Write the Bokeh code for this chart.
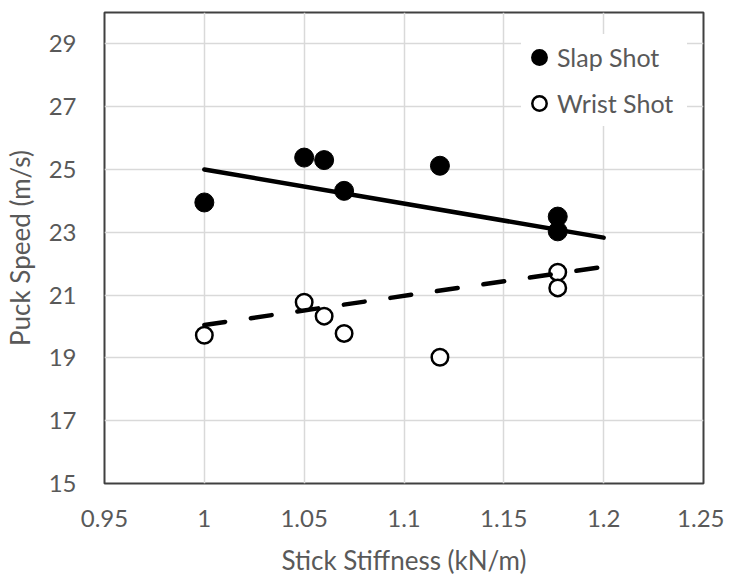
from bokeh.plotting import figure
from bokeh.models import Range1d, FixedTicker, Legend, LegendItem
from bokeh.embed import file_html
from bokeh.resources import INLINE

# ---- data ----
slap_x = [1.0, 1.05, 1.06, 1.07, 1.118, 1.177, 1.177]
slap_y = [23.95, 25.38, 25.3, 24.32, 25.12, 23.5, 23.03]
wrist_x = [1.0, 1.05, 1.06, 1.07, 1.118, 1.177, 1.177]
wrist_y = [19.72, 20.77, 20.33, 19.78, 19.02, 21.73, 21.23]

slap_fit_x = [1.0, 1.2]
slap_fit_y = [25.0, 22.83]
wrist_fit_x = [1.0, 1.2]
wrist_fit_y = [20.05, 21.9]

x_ticks = [0.95, 1.0, 1.05, 1.1, 1.15, 1.2, 1.25]
x_tick_labels = ["0.95", "1", "1.05", "1.1", "1.15", "1.2", "1.25"]
y_ticks = [15, 17, 19, 21, 23, 25, 27, 29]
y_tick_labels = ["15", "17", "19", "21", "23", "25", "27", "29"]

FONT = "Lato"
TXT = "#595959"

p = figure(width=724, height=578, output_backend="svg", toolbar_location=None,
           x_range=Range1d(0.95, 1.25), y_range=Range1d(15, 30),
           min_border_left=93, min_border_right=21, min_border_top=12, min_border_bottom=95)
p.background_fill_color = "white"
p.border_fill_color = "white"
p.outline_line_color = "#404040"
p.outline_line_width = 2

for ax in (p.xaxis[0], p.yaxis[0]):
    ax.axis_line_color = None
    ax.major_tick_line_color = None
    ax.minor_tick_line_color = None
    ax.major_tick_out = 0
    ax.major_tick_in = 0
    ax.major_label_text_font = FONT
    ax.major_label_text_font_size = "24px"
    ax.major_label_text_color = TXT
    ax.axis_label_text_font = FONT
    ax.axis_label_text_font_size = "26px"
    ax.axis_label_text_color = TXT
    ax.axis_label_text_font_style = "normal"

p.xaxis.ticker = FixedTicker(ticks=x_ticks)
p.yaxis.ticker = FixedTicker(ticks=y_ticks)
p.xaxis.major_label_overrides = dict(zip(x_ticks, x_tick_labels))
p.yaxis.major_label_overrides = dict(zip(y_ticks, y_tick_labels))
p.xaxis.axis_label = "Stick Stiffness (kN/m)"
p.yaxis.axis_label = "Puck Speed (m/s)"
p.xaxis.major_label_standoff = 26
p.yaxis.major_label_standoff = 28
p.xaxis.axis_label_standoff = 14
p.yaxis.axis_label_standoff = 10

p.xgrid.ticker = FixedTicker(ticks=x_ticks)
p.ygrid.ticker = FixedTicker(ticks=y_ticks)
p.grid.grid_line_color = "#d9d9d9"
p.grid.grid_line_width = 1.5

# legend-key glyphs: tiny copies tucked under the filled slap markers,
# used only to draw the legend keys at the reference's key size
leg_slap = p.scatter(slap_x, slap_y, marker="circle", size=1,
                     fill_color="black", line_color="black", line_width=2.5)
leg_wrist = p.scatter(slap_x, slap_y, marker="circle", size=1,
                      fill_color="white", line_color="black", line_width=2.5)

r_slap = p.scatter(slap_x, slap_y, marker="circle", size=19,
                   fill_color="black", line_color="black", line_width=1)
r_wrist = p.scatter(wrist_x, wrist_y, marker="circle", size=16.5,
                    fill_color="white", line_color="black", line_width=2.5)

p.line(slap_fit_x, slap_fit_y, line_color="black", line_width=4.5, line_cap="round")
p.line(wrist_fit_x, wrist_fit_y, line_color="black", line_width=4.5,
       line_cap="round", line_dash="21 26")

legend = Legend(items=[LegendItem(label="Slap Shot", renderers=[leg_slap]),
                       LegendItem(label="Wrist Shot", renderers=[leg_wrist])],
                location=(417, 357), glyph_width=36, glyph_height=46,
                label_standoff=0, label_width=130, spacing=0, padding=0, margin=0,
                border_line_color=None, background_fill_color="white",
                background_fill_alpha=1.0,
                label_text_font=FONT, label_text_font_size="25px",
                label_text_color=TXT)
p.add_layout(legend)

open("out.html", "w").write(file_html(p, INLINE))
